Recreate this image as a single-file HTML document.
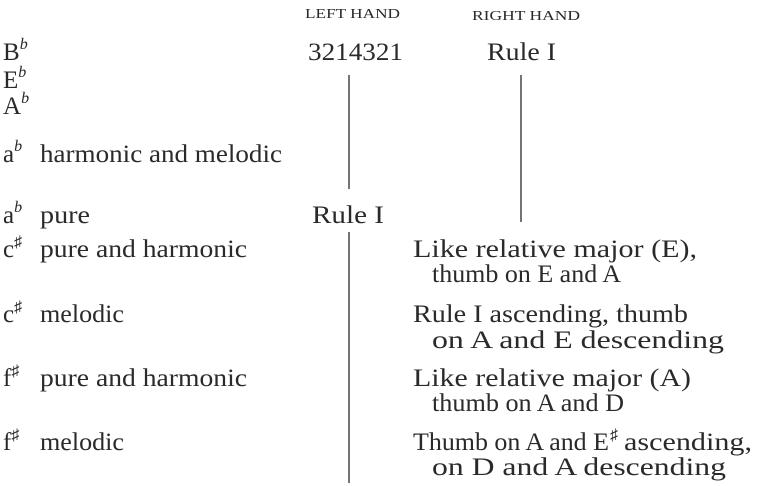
<!DOCTYPE html>
<html><head><meta charset="utf-8"><style>
html,body{margin:0;padding:0;background:#fff;}
svg{display:block;}
text{font-family:"Liberation Serif",serif;fill:#2a2a2a;font-size:25px;}
.h{font-size:14px;}
.s{font-size:16px;font-style:italic;}
.k{font-size:16px;}
</style></head><body>
<svg width="758" height="486" viewBox="0 0 758 486">
<text class="h" x="305" y="18" textLength="95" lengthAdjust="spacingAndGlyphs">LEFT HAND</text>
<text class="h" x="472" y="20" textLength="108" lengthAdjust="spacingAndGlyphs">RIGHT HAND</text>

<text x="3" y="60">B<tspan class="s" dy="-11">b</tspan></text>
<text x="3" y="88">E<tspan class="s" dy="-11">b</tspan></text>
<text x="3" y="114">A<tspan class="s" dy="-11">b</tspan></text>
<text x="3" y="162">a<tspan class="s" dy="-11">b</tspan></text>
<text x="40" y="162" textLength="242" lengthAdjust="spacingAndGlyphs">harmonic and melodic</text>
<text x="3" y="223">a<tspan class="s" dy="-11">b</tspan></text>
<text x="40" y="223" textLength="50" lengthAdjust="spacingAndGlyphs">pure</text>
<text x="3" y="257">c<tspan class="k" dy="-10">♯</tspan></text>
<text x="40" y="257" textLength="207" lengthAdjust="spacingAndGlyphs">pure and harmonic</text>
<text x="3" y="322">c<tspan class="k" dy="-10">♯</tspan></text>
<text x="40" y="322" textLength="84" lengthAdjust="spacingAndGlyphs">melodic</text>
<text x="3" y="386">f<tspan class="k" dy="-10">♯</tspan></text>
<text x="40" y="386" textLength="207" lengthAdjust="spacingAndGlyphs">pure and harmonic</text>
<text x="3" y="450">f<tspan class="k" dy="-10">♯</tspan></text>
<text x="40" y="450" textLength="84" lengthAdjust="spacingAndGlyphs">melodic</text>

<text x="308" y="60" textLength="95" lengthAdjust="spacingAndGlyphs">3214321</text>
<text x="487" y="60" textLength="69" lengthAdjust="spacingAndGlyphs">Rule I</text>
<text x="312" y="223" textLength="72" lengthAdjust="spacingAndGlyphs">Rule I</text>

<text x="413" y="257" textLength="284" lengthAdjust="spacingAndGlyphs">Like relative major (E),</text>
<text x="432" y="282" textLength="189" lengthAdjust="spacingAndGlyphs">thumb on E and A</text>
<text x="413" y="322" textLength="275" lengthAdjust="spacingAndGlyphs">Rule I ascending, thumb</text>
<text x="432" y="348" textLength="292" lengthAdjust="spacingAndGlyphs">on A and E descending</text>
<text x="413" y="386" textLength="278" lengthAdjust="spacingAndGlyphs">Like relative major (A)</text>
<text x="432" y="411" textLength="192" lengthAdjust="spacingAndGlyphs">thumb on A and D</text>
<text x="413" y="450" textLength="196" lengthAdjust="spacingAndGlyphs">Thumb on A and E</text>
<text class="k" x="610" y="440">♯</text>
<text x="624" y="450" textLength="128" lengthAdjust="spacingAndGlyphs">ascending,</text>
<text x="432" y="475" textLength="294" lengthAdjust="spacingAndGlyphs">on D and A descending</text>

<line x1="349" y1="75" x2="349" y2="189" stroke="#2a2a2a" stroke-width="1.3"/>
<line x1="349" y1="232" x2="349" y2="483" stroke="#2a2a2a" stroke-width="1.3"/>
<line x1="521" y1="75" x2="521" y2="222" stroke="#2a2a2a" stroke-width="1.3"/>
</svg>
</body></html>
